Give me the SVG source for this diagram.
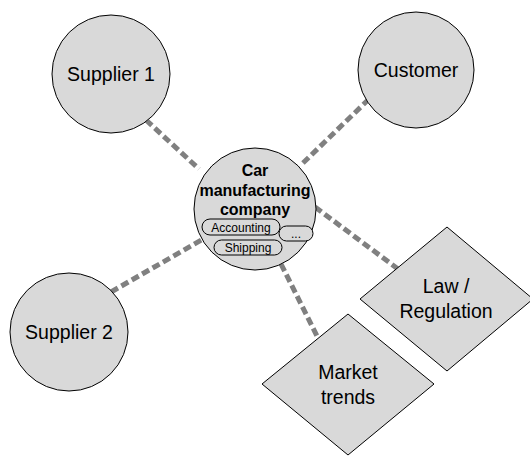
<svg xmlns="http://www.w3.org/2000/svg" width="530" height="456" viewBox="0 0 530 456">
<style>
.node{fill:#d9d9d9;stroke:#000;stroke-width:1}
.pill{fill:#d9d9d9;stroke:#000;stroke-width:1}
.lbl{font-family:"Liberation Sans",Arial,sans-serif;font-size:19.5px;fill:#000;text-anchor:middle}
.bold{font-family:"Liberation Sans",Arial,sans-serif;font-size:16px;font-weight:bold;fill:#000;text-anchor:middle}
.small{font-family:"Liberation Sans",Arial,sans-serif;font-size:12px;fill:#000;text-anchor:middle}
.conn{stroke:#808080;stroke-width:5;stroke-dasharray:8 4;fill:none}
</style>
<rect width="530" height="456" fill="#fff"/>
<g id="connectors">
<line class="conn" x1="146" y1="120" x2="199" y2="169"/>
<line class="conn" x1="369" y1="99" x2="302" y2="164"/>
<line class="conn" x1="111" y1="292" x2="203" y2="239"/>
<line class="conn" x1="315" y1="207" x2="398" y2="269"/>
<line class="conn" x1="281" y1="264" x2="319" y2="340"/>
</g>
<g id="supplier1">
<circle class="node" cx="111" cy="74" r="59"/>
<text class="lbl" x="111" y="81">Supplier 1</text>
</g>
<g id="customer">
<circle class="node" cx="416" cy="70" r="58"/>
<text class="lbl" x="416" y="77">Customer</text>
</g>
<g id="supplier2">
<circle class="node" cx="69" cy="332" r="59"/>
<text class="lbl" x="69" y="339">Supplier 2</text>
</g>
<g id="law">
<polygon class="node" points="447,227 533,299 447,371 360,299"/>
<text class="lbl" x="446" y="293">Law /</text>
<text class="lbl" x="446" y="318">Regulation</text>
</g>
<g id="market">
<polygon class="node" points="348,314 434,384 348,455 262,384"/>
<text class="lbl" x="348" y="379">Market</text>
<text class="lbl" x="348" y="404">trends</text>
</g>
<g id="company">
<circle class="node" cx="255" cy="209" r="61"/>
<text class="bold" x="255" y="176">Car</text>
<text class="bold" x="255" y="196">manufacturing</text>
<text class="bold" x="255" y="215">company</text>
<g id="accounting">
<rect class="pill" x="202" y="219" width="78" height="16" rx="8"/>
<text class="small" x="241" y="231.5">Accounting</text>
</g>
<g id="dots">
<rect class="pill" x="279" y="226" width="34" height="15" rx="7.5"/>
<text class="small" x="296" y="238">...</text>
</g>
<g id="shipping">
<rect class="pill" x="214" y="240" width="68" height="15" rx="7.5"/>
<text class="small" x="248" y="252">Shipping</text>
</g>
</g>
</svg>
